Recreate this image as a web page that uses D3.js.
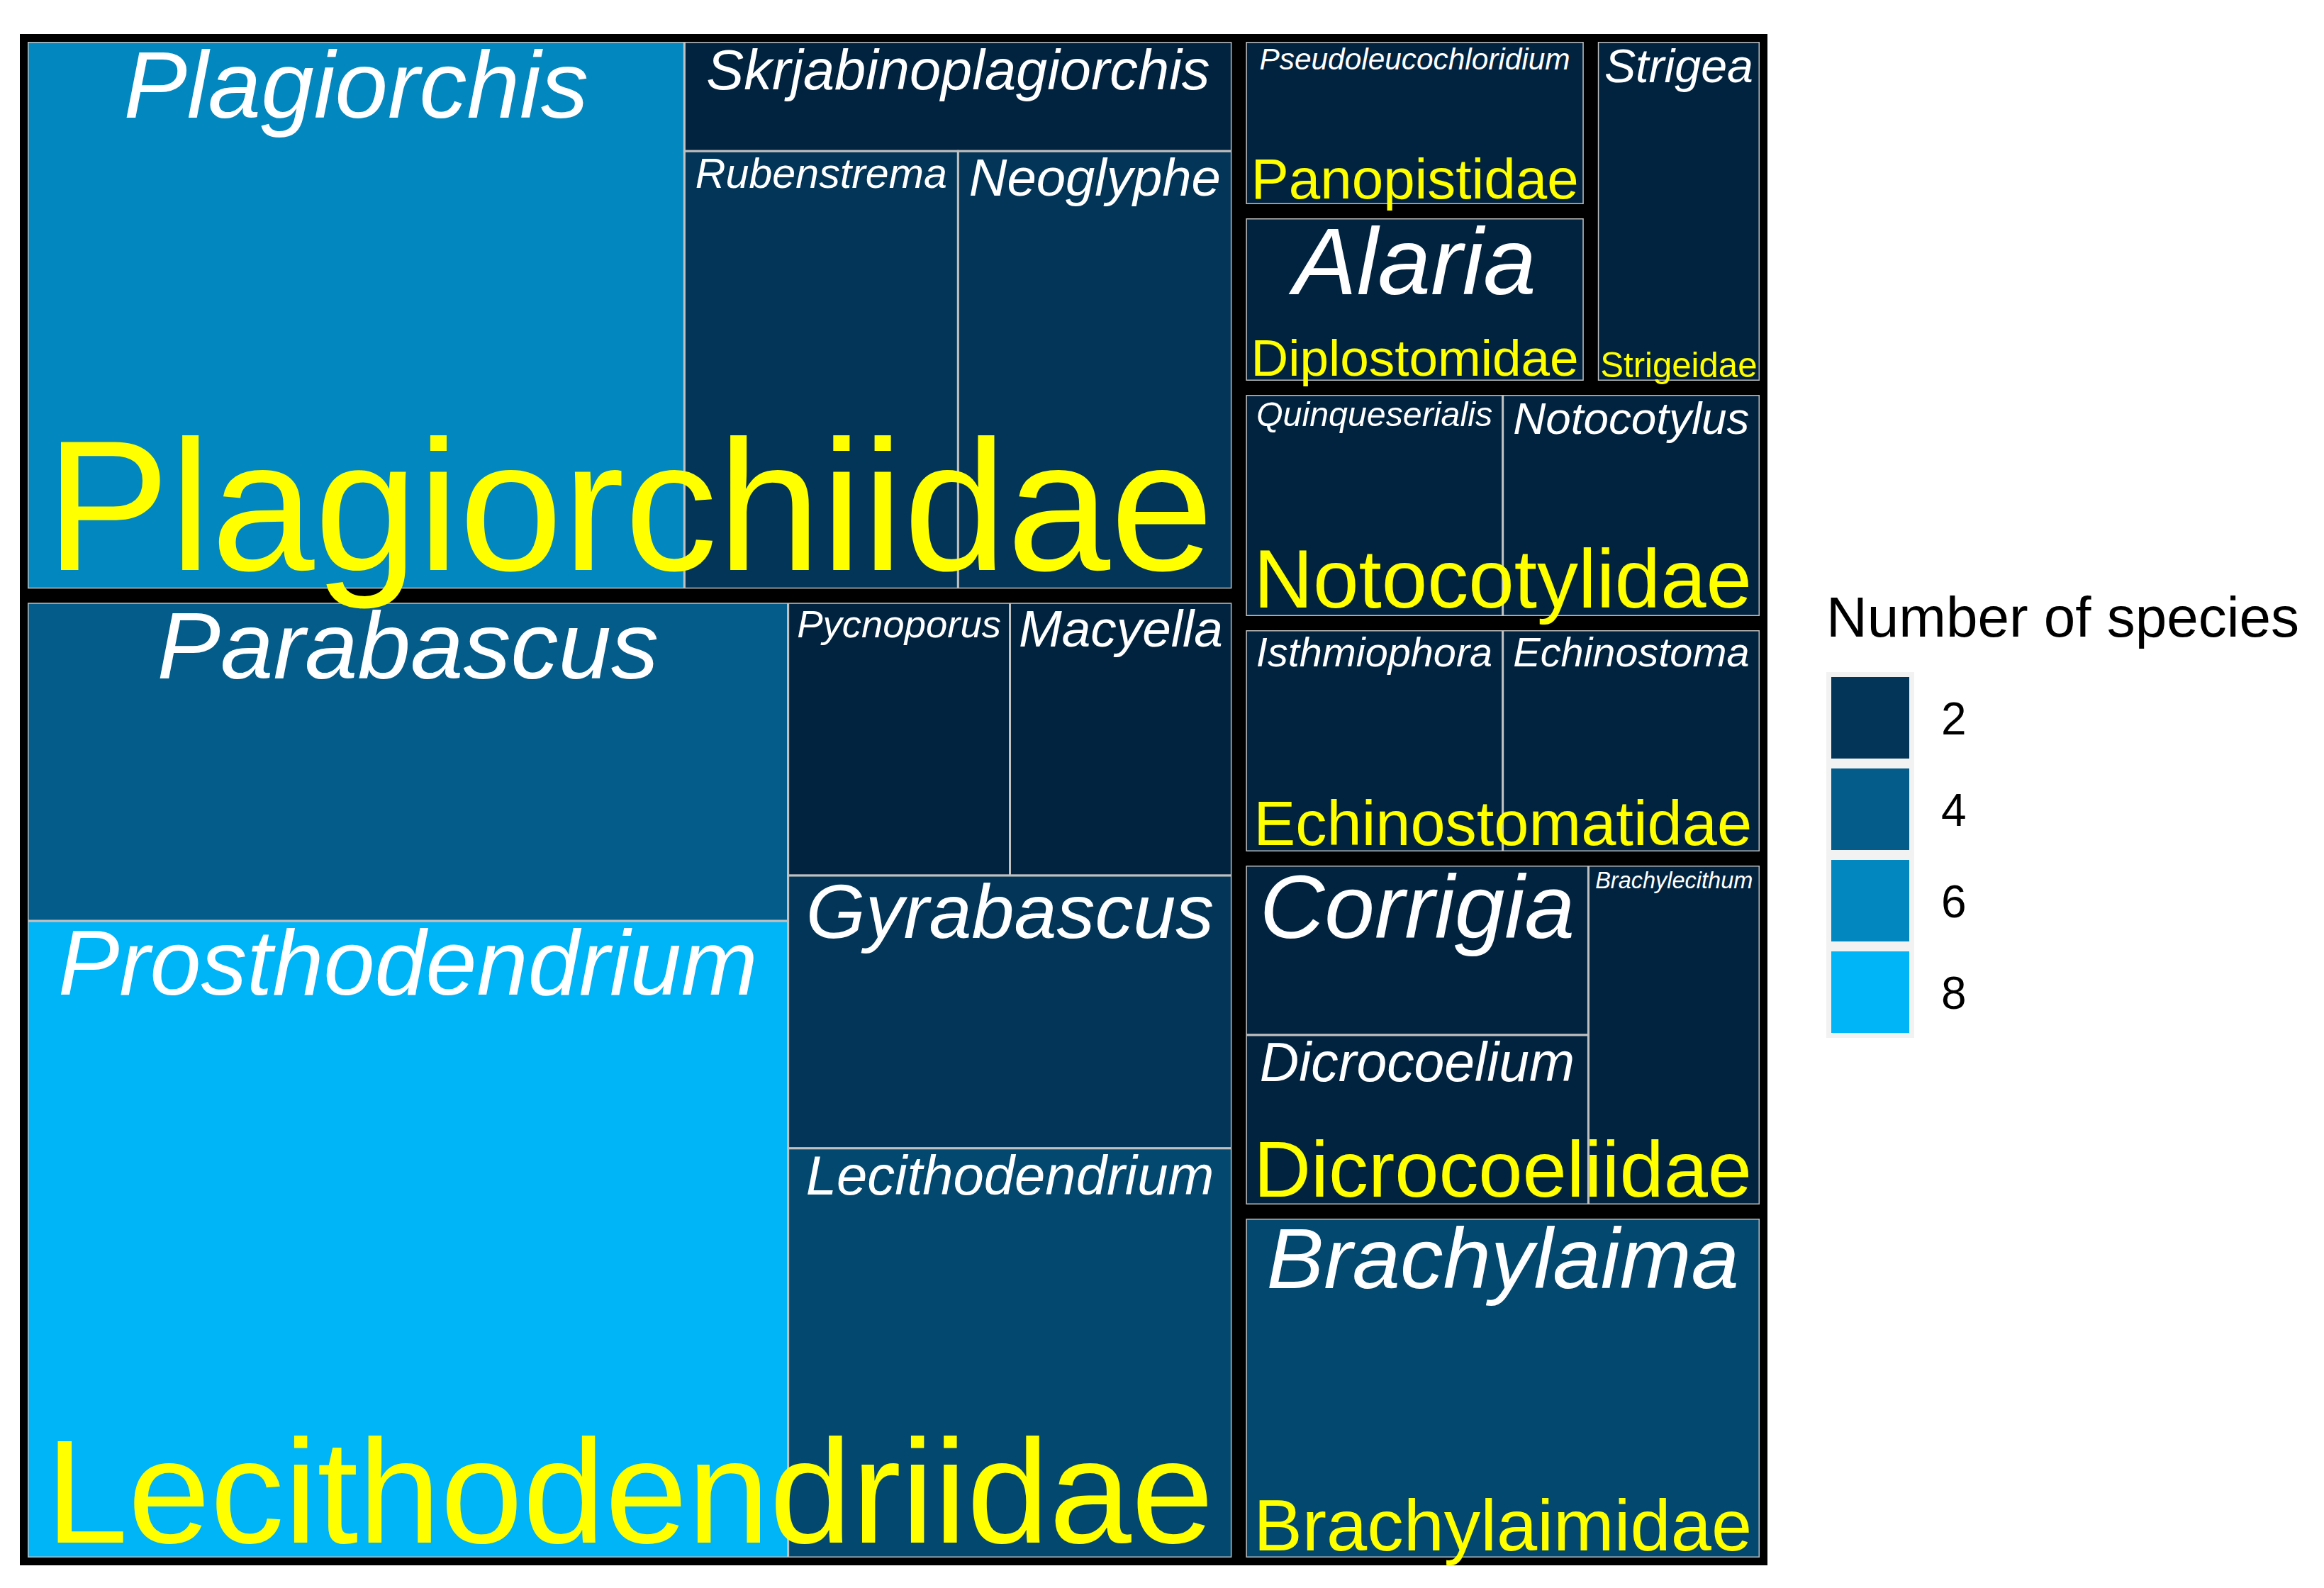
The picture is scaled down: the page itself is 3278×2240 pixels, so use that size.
<!DOCTYPE html>
<html><head><meta charset="utf-8">
<script src="https://cdnjs.cloudflare.com/ajax/libs/d3/7.8.5/d3.min.js"></script>
<style>html,body{margin:0;padding:0;background:#fff}</style>
</head><body>
<svg id="c" width="3278" height="2240"></svg>
<script>
// Families and their genera (number of species per genus)
const families = ["Plagiorchiidae","Lecithodendriidae","Panopistidae","Diplostomidae","Strigeidae","Notocotylidae","Echinostomatidae","Dicrocoeliidae","Brachylaimidae"];
const genera  = ["Plagiorchis","Skrjabinoplagiorchis","Rubenstrema","Neoglyphe",
                 "Parabascus","Prosthodendrium","Pycnoporus","Macyella","Gyrabascus","Lecithodendrium",
                 "Pseudoleucochloridium","Alaria","Strigea",
                 "Quinqueserialis","Notocotylus","Isthmiophora","Echinostoma",
                 "Corrigia","Dicrocoelium","Brachylecithum","Brachylaima"];
const genusFamily = ["Plagiorchiidae","Plagiorchiidae","Plagiorchiidae","Plagiorchiidae",
                 "Lecithodendriidae","Lecithodendriidae","Lecithodendriidae","Lecithodendriidae","Lecithodendriidae","Lecithodendriidae",
                 "Panopistidae","Diplostomidae","Strigeidae",
                 "Notocotylidae","Notocotylidae","Echinostomatidae","Echinostomatidae",
                 "Dicrocoeliidae","Dicrocoeliidae","Dicrocoeliidae","Brachylaimidae"];
const species = [6,1,2,2, 4,8,1,1,2,3, 1,1,1, 1,1,1,1, 1,1,1, 3];
const legendTicks = [2,4,6,8];

// grouping structure used by the tiling (which items share a strip)
const topGroups = [["Plagiorchiidae","Lecithodendriidae"],
  [[["Panopistidae","Diplostomidae"],"Strigeidae"],"Notocotylidae","Echinostomatidae","Dicrocoeliidae","Brachylaimidae"]];
const genusGroups = {
  Plagiorchiidae: ["Plagiorchis",["Skrjabinoplagiorchis",["Rubenstrema","Neoglyphe"]]],
  Lecithodendriidae: [["Parabascus","Prosthodendrium"],[["Pycnoporus","Macyella"],"Gyrabascus","Lecithodendrium"]],
  Panopistidae:["Pseudoleucochloridium"], Diplostomidae:["Alaria"], Strigeidae:["Strigea"],
  Notocotylidae:["Quinqueserialis","Notocotylus"], Echinostomatidae:["Isthmiophora","Echinostoma"],
  Dicrocoeliidae:[["Corrigia","Dicrocoelium"],"Brachylecithum"], Brachylaimidae:["Brachylaima"]
};

function buildGenus(g){
  if (Array.isArray(g)) return {kind:"ggroup", children:g.map(buildGenus)};
  const i = genera.indexOf(g);
  return {kind:"genus", name:g, value:species[i]};
}
function buildTop(g){
  if (Array.isArray(g)) return {kind:"group", children:g.map(buildTop)};
  return {kind:"family", name:g, children:genusGroups[g].map(buildGenus)};
}
const data = {kind:"root", children: topGroups.map(buildTop)};

const root = d3.hierarchy(data).sum(d => d.value || 0);
const tile = (node,x0,y0,x1,y1) => ((x1-x0) > 1.08*(y1-y0) ? d3.treemapDice : d3.treemapSlice)(node,x0,y0,x1,y1);
const X0=28, Y0=48, X1=2493, Y1=2208;
d3.treemap().tile(tile).size([X1-X0, Y1-Y0])
  .paddingInner(d => (d.data.kind==="root"||d.data.kind==="group") ? 20 : 0)
  .paddingOuter(d => d.data.kind==="root" ? 11 : 0)(root);

const color = d3.scaleLinear().domain([1,8]).range(["#01233f","#00b4f8"]).interpolate(d3.interpolateLab);

const svg = d3.select("#c");
const g = svg.append("g").attr("transform",`translate(${X0},${Y0})`);
g.append("rect").attr("width",X1-X0).attr("height",Y1-Y0).attr("fill","#000");

const leaves = root.leaves();
const famNodes = root.descendants().filter(d => d.data.kind==="family");

g.selectAll("rect.genus").data(leaves).join("rect").attr("class","genus")
  .attr("x",d=>d.x0).attr("y",d=>d.y0).attr("width",d=>d.x1-d.x0).attr("height",d=>d.y1-d.y0)
  .attr("fill",d=>color(d.value)).attr("stroke","#c0c0c0").attr("stroke-width",3);
g.selectAll("rect.fam").data(famNodes).join("rect").attr("class","fam")
  .attr("x",d=>d.x0-3).attr("y",d=>d.y0-3).attr("width",d=>d.x1-d.x0+6).attr("height",d=>d.y1-d.y0+6)
  .attr("fill","none").attr("stroke","#000").attr("stroke-width",6);

const FONT = "'Liberation Sans', Arial, sans-serif";
const meas = svg.append("text").attr("font-family",FONT).attr("font-size",100);
function width100(t, italic){ meas.attr("font-style", italic?"italic":"normal").text(t); return meas.node().getComputedTextLength(); }

leaves.forEach(d => {
  const w = d.x1-d.x0;
  const size = Math.min(134, 100*w*0.92/width100(d.data.name,true));
  g.append("text").attr("x",(d.x0+d.x1)/2).attr("y",d.y0+8+0.74*size)
    .attr("text-anchor","middle").attr("font-family",FONT).attr("font-style","italic")
    .attr("font-size",size).attr("fill","#fff").text(d.data.name);
});
famNodes.forEach(d => {
  const w = d.x1-d.x0;
  const size = 100*w*0.97/width100(d.data.name,false);
  g.append("text").attr("x",(d.x0+d.x1)/2).attr("y",d.y1-0.1*size)
    .attr("text-anchor","middle").attr("font-family",FONT)
    .attr("font-size",size).attr("fill","#ffff00").text(d.data.name);
});
meas.remove();

// legend
const lg = svg.append("g").attr("transform","translate(2576,0)");
lg.append("text").attr("x",0).attr("y",898).attr("font-family",FONT).attr("font-size",80).attr("fill","#000").text("Number of species");
const keyY = d3.scaleBand().domain(legendTicks).range([948,948+4*129]);
legendTicks.forEach(t => {
  lg.append("rect").attr("x",0).attr("y",keyY(t)).attr("width",124).attr("height",129)
    .attr("fill","#f2f2f2");
  lg.append("rect").attr("x",7).attr("y",keyY(t)+7).attr("width",110).attr("height",115)
    .attr("fill",color(t));
  lg.append("text").attr("x",162).attr("y",keyY(t)+66).attr("dominant-baseline","central")
    .attr("font-family",FONT).attr("font-size",64).attr("fill","#000").text(t);
});
</script>
</body></html>
